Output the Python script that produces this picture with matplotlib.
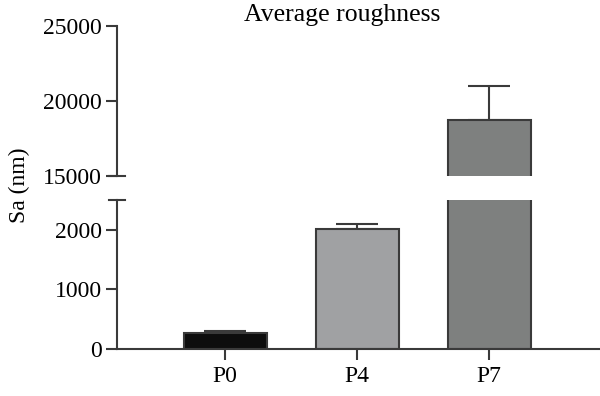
import numpy as np
import matplotlib.pyplot as plt

# data
groups = ["P0", "P4", "P7"]
sa_mean = [265, 2020, 18700]
sa_err = [45, 80, 2300]
bar_colors = ["#0d0d0d", "#a0a1a3", "#7e807f"]

plt.rcParams['font.family'] = ['Liberation Serif', 'DejaVu Serif']
edge = "#3a3a3a"
fs = 17

fig = plt.figure(figsize=(6.0, 3.96), dpi=100)
ax_top = fig.add_axes([0.195, 0.5556, 0.805, 0.3787])
ax_bot = fig.add_axes([0.195, 0.1187, 0.805, 0.3762])

x = np.arange(len(groups))
yerr = [np.zeros(len(sa_err)), sa_err]
for ax in (ax_top, ax_bot):
    ax.bar(x, sa_mean, width=0.63, color=bar_colors, edgecolor=edge,
           linewidth=1.5, zorder=2)
    ax.errorbar(x, sa_mean, yerr=yerr, fmt='none', ecolor=edge,
                elinewidth=1.5, capsize=15, capthick=1.5, zorder=1)
    ax.set_xlim(-0.82, 2.84)
    for s in ("top", "right"):
        ax.spines[s].set_visible(False)
    ax.spines["left"].set_color(edge)
    ax.spines["left"].set_linewidth(1.5)
    ax.tick_params(axis='y', length=8, width=1.5, color=edge, labelsize=fs,
                   pad=3)

ax_top.set_ylim(15000, 25000)
ax_top.set_yticks([15000, 20000, 25000])
ax_top.spines["bottom"].set_visible(False)
ax_top.set_xticks([])

ax_bot.set_ylim(0, 2500)
ax_bot.set_yticks([0, 1000, 2000])
ax_bot.spines["bottom"].set_color(edge)
ax_bot.spines["bottom"].set_linewidth(1.5)
ax_bot.set_xticks(x)
ax_bot.set_xticklabels(groups)
ax_bot.tick_params(axis='x', length=8, width=1.5, color=edge, labelsize=fs,
                   pad=4)

# break marks across the left spine
kw = dict(transform=fig.transFigure, color=edge, linewidth=1.5, clip_on=False)
fig.add_artist(plt.Line2D([0.181, 0.208], [0.5556, 0.5556], **kw))
fig.add_artist(plt.Line2D([0.181, 0.208], [0.4949, 0.4949], **kw))

fig.text(0.570, 0.962, "Average roughness", ha='center', va='center',
         fontsize=18.5)
fig.text(0.032, 0.533, "Sa (nm)", ha='center', va='center', rotation=90,
         fontsize=fs)

fig.savefig("out.png", dpi=100)
